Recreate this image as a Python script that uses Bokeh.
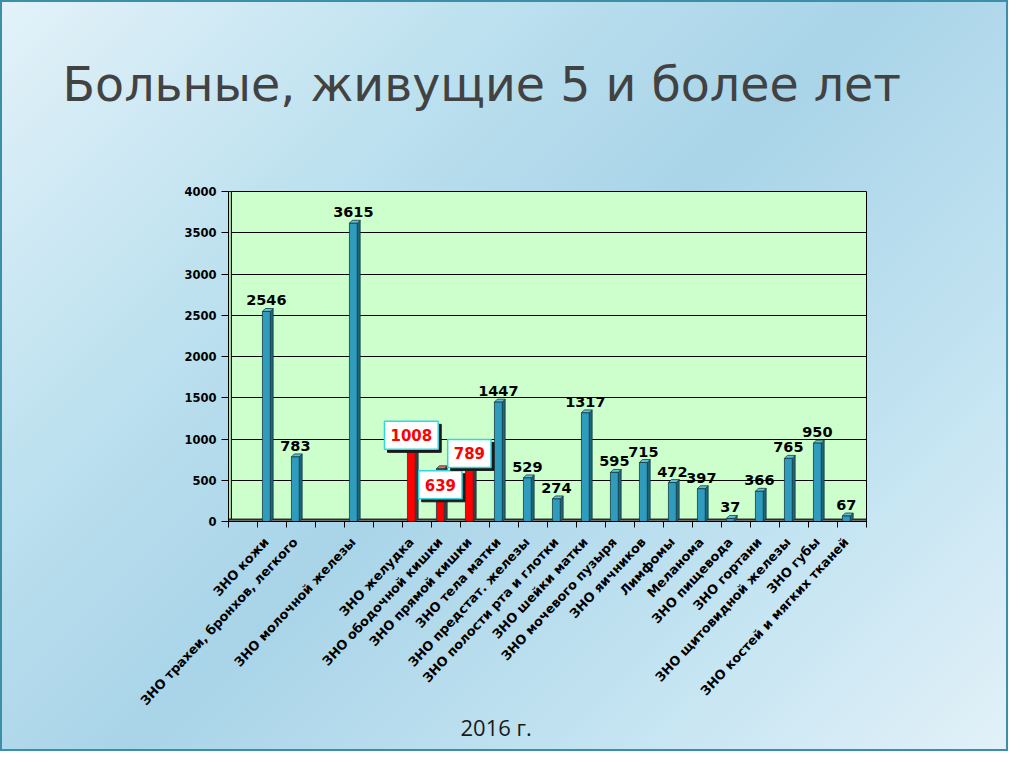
import math
from bokeh.plotting import figure
from bokeh.models import (Range1d, FixedTicker, LinearAxis, Label, Grid, ColumnDataSource, Title)
from bokeh.core.properties import value
from bokeh.embed import file_html
from bokeh.resources import INLINE

# ---------------- data ----------------
categories = ["", "ЗНО кожи", "ЗНО трахеи, бронхов, легкого", "", "ЗНО молочной железы", "",
              "ЗНО желудка", "ЗНО ободочной кишки", "ЗНО прямой кишки", "ЗНО тела матки",
              "ЗНО предстат. железы", "ЗНО полости рта и глотки", "ЗНО шейки матки",
              "ЗНО мочевого пузыря", "ЗНО яичников", "Лимфомы", "Меланома", "ЗНО пищевода",
              "ЗНО гортани", "ЗНО щитовидной железы", "ЗНО губы", "ЗНО костей и мягких тканей"]
values = [None, 2546, 783, None, 3615, None, 1008, 639, 789, 1447, 529, 274, 1317,
          595, 715, 472, 397, 37, 366, 765, 950, 67]
highlighted = ["ЗНО желудка", "ЗНО ободочной кишки", "ЗНО прямой кишки"]
y_ticks = [0, 500, 1000, 1500, 2000, 2500, 3000, 3500, 4000]
title_text = "Больные, живущие 5 и более лет"
year_text = "2016 г."

# ---------------- style / geometry ----------------
W, H = 1008, 751
FRAME_L, FRAME_R, FRAME_T, FRAME_B = 228, 866, 191, 521   # pixel box of the plot area
FRONT_L, FRONT_R = -0.33, -0.06      # front face, in category units
DX, DY = 0.1, 36                       # 3D depth (x in categories, y in value units)
BLUE_FRONT, BLUE_SIDE, BLUE_TOP = "#2f9cbd", "#1d6677", "#63bfd4"
RED_FRONT, RED_SIDE, RED_TOP = "#ff0000", "#3c3c3c", "#ff6060"
EDGE = "#163a44"
# vertical nudge (px, + = up) of the boxed labels, as placed in the original slide
RED_LABEL_SHIFT = {"ЗНО желудка": 3, "ЗНО ободочной кишки": -16, "ЗНО прямой кишки": 3}

n = len(categories)
p = figure(width=W, height=H,
           x_range=Range1d(-0.5, n - 0.5), y_range=Range1d(0, 4000),
           output_backend="svg", toolbar_location=None,
           x_axis_type=None, y_axis_type=None,
           min_border_left=FRAME_L, min_border_right=W - FRAME_R,
           min_border_top=FRAME_T, min_border_bottom=H - FRAME_B,
           background_fill_color="#ccffcc", border_fill_color=None,
           outline_line_color="black", outline_line_width=1)
p.grid.visible = False
p.styles = {
    "background": "linear-gradient(135deg, #e3f2f9 0%, #bde1ef 28%, #a9d4e8 50%, #c2e3f1 75%, #e2f1f8 100%)",
    "box-shadow": "inset 0 0 0 2px #3b8fa6",
}

# axes
yaxis = LinearAxis(ticker=FixedTicker(ticks=y_ticks))
yaxis.major_tick_out = 7
yaxis.major_tick_in = 0
yaxis.axis_line_color = "black"
yaxis.major_tick_line_color = "black"
yaxis.major_label_text_font = "DejaVu Sans"
yaxis.major_label_text_font_style = "bold"
yaxis.major_label_text_font_size = "11.5px"
yaxis.major_label_text_color = "black"
yaxis.major_label_standoff = 5
p.add_layout(yaxis, "left")

label_pos = [i + (FRONT_L + FRONT_R) / 2 for i in range(n)]
xaxis = LinearAxis(ticker=FixedTicker(ticks=label_pos,
                                      minor_ticks=[i - 0.5 for i in range(n + 1)]))
xaxis.major_label_overrides = {pos: c for pos, c in zip(label_pos, categories)}
xaxis.major_tick_out = 0
xaxis.major_tick_in = 0
xaxis.minor_tick_out = 6
xaxis.minor_tick_in = 0
xaxis.minor_tick_line_color = "black"
xaxis.axis_line_color = "black"
xaxis.major_label_orientation = 0.82
xaxis.major_label_text_font = "DejaVu Sans"
xaxis.major_label_text_font_style = "bold"
xaxis.major_label_text_font_size = "12.8px"
xaxis.major_label_text_color = "black"
xaxis.major_label_standoff = 12
p.add_layout(xaxis, "below")

p.add_layout(Grid(dimension=1, ticker=FixedTicker(ticks=y_ticks),
                  grid_line_color="black", grid_line_width=1))

# walls / floor
p.quad(left=[-0.5], right=[-0.5 + DX], bottom=[0], top=[4000],
       fill_color="#b8e8b8", line_color="black", line_width=1)
p.quad(left=[-0.5], right=[n - 0.5], bottom=[0], top=[DY * 0.8],
       fill_color="#6f6f6f", line_color="black", line_width=1)

# bars
groups = {"blue": dict(fl=[], fr=[], ft=[], sx=[], sy=[], tx=[], ty=[]),
          "red": dict(fl=[], fr=[], ft=[], sx=[], sy=[], tx=[], ty=[])}
lab_x, lab_y, lab_t = [], [], []
red_labels = []
for i, (cat, v) in enumerate(zip(categories, values)):
    if v is None:
        continue
    g = groups["red" if cat in highlighted else "blue"]
    l, r = i + FRONT_L, i + FRONT_R
    g["fl"].append(l); g["fr"].append(r); g["ft"].append(v)
    g["sx"].append([r, r + DX, r + DX, r]); g["sy"].append([0, DY, v + DY, v])
    g["tx"].append([l, l + DX, r + DX, r]); g["ty"].append([v, v + DY, v + DY, v])
    cx = (l + r) / 2
    if cat in highlighted:
        red_labels.append((cx, v, str(v), RED_LABEL_SHIFT.get(cat, 0)))
    else:
        lab_x.append(cx); lab_y.append(v + DY); lab_t.append(str(v))

for key, (cf, cs, ct) in {"blue": (BLUE_FRONT, BLUE_SIDE, BLUE_TOP),
                          "red": (RED_FRONT, RED_SIDE, RED_TOP)}.items():
    g = groups[key]
    p.patches(g["sx"], g["sy"], fill_color=cs, line_color=EDGE, line_width=0.8)
    p.patches(g["tx"], g["ty"], fill_color=ct, line_color=EDGE, line_width=0.8)
    p.quad(left=g["fl"], right=g["fr"], bottom=[0] * len(g["fl"]), top=g["ft"],
           fill_color=cf, line_color=EDGE, line_width=0.8)

src = ColumnDataSource(dict(x=lab_x, y=lab_y, t=lab_t))
p.text(x="x", y="y", text="t", source=src, text_align="center", text_baseline="bottom",
       y_offset=-3, text_font=value("DejaVu Sans"), text_font_style="bold",
       text_font_size="14.5px", text_color="black")

pad = dict(left=6, right=6, top=8, bottom=8)
for cx, v, t, shift in red_labels:
    p.add_layout(Label(x=cx, y=v, text=t, text_align="center", text_baseline="middle",
                       x_offset=3, y_offset=-3 + shift, padding=pad,
                       text_font="DejaVu Sans", text_font_style="bold", text_font_size="15px",
                       text_color="#1a1a1a", background_fill_color="#1a1a1a",
                       border_line_color="#1a1a1a"))
    p.add_layout(Label(x=cx, y=v, text=t, text_align="center", text_baseline="middle",
                       y_offset=shift, padding=pad,
                       text_font="DejaVu Sans", text_font_style="bold", text_font_size="15px",
                       text_color="#ff0000", background_fill_color="white",
                       border_line_color="#33d6e0", border_line_width=1.5))

# slide title (above, lifted by an empty spacer panel) and year caption (below)
p.add_layout(Title(text=" ", text_font_size="10px", standoff=67), "above")
p.add_layout(Title(text=title_text, align="left", offset=62 - FRAME_L, standoff=0,
                   text_font="DejaVu Sans", text_font_style="normal", text_font_size="47.5px",
                   text_color="#424242"), "above")
p.add_layout(Title(text=year_text, align="left", offset=460 - FRAME_L, standoff=-10,
                   vertical_align="top",
                   text_font="Open Sans", text_font_style="normal", text_font_size="22px",
                   text_color="#1a1a1a"), "below")

open("out.html", "w").write(file_html(p, INLINE))
